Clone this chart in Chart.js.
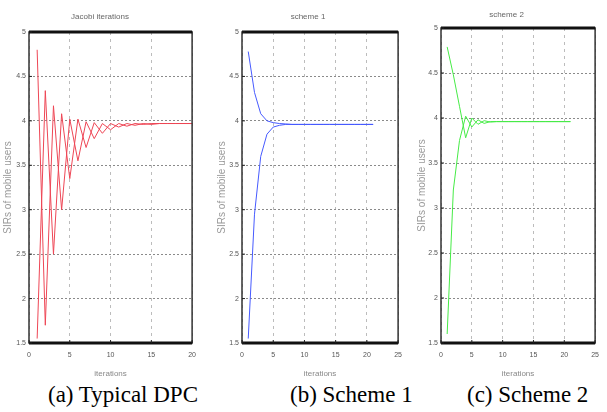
<!DOCTYPE html>
<html>
<head>
<meta charset="utf-8">
<script src="https://cdn.jsdelivr.net/npm/chart.js@4.4.0/dist/chart.umd.min.js"></script>
<style>
  body { margin: 0; width: 607px; height: 412px; background: #fff; position: relative; overflow: hidden; }
  .panel { position: absolute; top: 0; height: 380px; }
  .cap { position: absolute; top: 383px; font-family: "Liberation Serif", "Times New Roman", serif; font-size: 23px; line-height: 24px; color: #000; white-space: nowrap; }
</style>
</head>
<body>
<div class="panel" style="left:0;width:204px"><canvas id="chartA"></canvas></div>
<div class="panel" style="left:210px;width:200px"><canvas id="chartB"></canvas></div>
<div class="panel" style="left:410px;width:197px"><canvas id="chartC"></canvas></div>
<div class="cap" style="left:48px">(a) Typical DPC</div>
<div class="cap" style="left:290px">(b) Scheme 1</div>
<div class="cap" style="left:467px">(c) Scheme 2</div>

<script>
// ---- data ----
const iterA = [1, 2, 3, 4, 5, 6, 7, 8, 9, 10, 11, 12, 13, 14, 15, 16, 17, 18, 19, 20];
const iterBC = [1, 2, 3, 4, 5, 6, 7, 8, 9, 10, 11, 12, 13, 14, 15, 16, 17, 18, 19, 20, 21];

// (a) typical DPC, two users oscillating
const dpcUser1 = [4.8, 1.7, 4.17, 3.0, 4.02, 3.55, 3.99, 3.8, 3.97, 3.9, 3.97, 3.94, 3.97, 3.96, 3.97, 3.97, 3.97, 3.97, 3.97, 3.97];
const dpcUser2 = [1.55, 4.34, 2.5, 4.08, 3.35, 4.02, 3.7, 3.98, 3.86, 3.97, 3.93, 3.97, 3.95, 3.97, 3.96, 3.97, 3.97, 3.97, 3.97, 3.97];

// (b) scheme 1
const s1User1 = [4.78, 4.32, 4.08, 4.0, 3.98, 3.97, 3.965, 3.96, 3.96, 3.96, 3.96, 3.96, 3.96, 3.96, 3.96, 3.96, 3.96, 3.96, 3.96, 3.96, 3.96];
const s1User2 = [1.55, 2.95, 3.6, 3.85, 3.93, 3.95, 3.96, 3.96, 3.96, 3.96, 3.96, 3.96, 3.96, 3.96, 3.96, 3.96, 3.96, 3.96, 3.96, 3.96, 3.96];

// (c) scheme 2
const s2User1 = [4.79, 4.48, 4.13, 3.78, 4.0, 3.93, 3.97, 3.955, 3.96, 3.96, 3.96, 3.96, 3.96, 3.96, 3.96, 3.96, 3.96, 3.96, 3.96, 3.96, 3.96];
const s2User2 = [1.6, 3.2, 3.75, 4.02, 3.9, 3.98, 3.94, 3.96, 3.96, 3.96, 3.96, 3.96, 3.96, 3.96, 3.96, 3.96, 3.96, 3.96, 3.96, 3.96, 3.96];

const yTicksMin = 1.5, yTicksMax = 5, yStep = 0.5;
const xStep = 5;

// ---- frame round the axes, matlab style ----
const framePlugin = {
  id: "frame",
  afterDatasetsDraw(chart) {
    const a = chart.chartArea;
    const ctx = chart.ctx;
    ctx.save();
    ctx.strokeStyle = "#333";
    ctx.lineWidth = 1.5;
    ctx.strokeRect(a.left, a.top, a.right - a.left, a.bottom - a.top);
    ctx.strokeStyle = "#111";
    ctx.lineWidth = 3;
    ctx.beginPath();
    ctx.moveTo(a.left, a.top); ctx.lineTo(a.right, a.top);
    ctx.moveTo(a.left, a.bottom); ctx.lineTo(a.right, a.bottom);
    ctx.stroke();
    // small inward tick marks
    ctx.lineWidth = 1;
    ctx.strokeStyle = "#222";
    ctx.beginPath();
    chart.scales.y.ticks.forEach(t => {
      const py = chart.scales.y.getPixelForValue(t.value);
      ctx.moveTo(a.left, py); ctx.lineTo(a.left + 3, py);
    });
    chart.scales.x.ticks.forEach(t => {
      const px = chart.scales.x.getPixelForValue(t.value);
      ctx.moveTo(px, a.bottom); ctx.lineTo(px, a.bottom - 3);
    });
    ctx.stroke();
    ctx.restore();
  }
};

function makePanel(id, title, xs, series, colour, xMax, yWidth, titleTop, titleBottom, yTitleOffset) {
  const datasets = series.map(ys => ({
    data: xs.map((x, i) => ({ x: x, y: ys[i] })),
    borderColor: colour,
    borderWidth: 1,
    pointRadius: 0,
    tension: 0,
    fill: false
  }));

  new Chart(document.getElementById(id), {
    type: "line",
    data: { datasets },
    options: {
      responsive: true,
      maintainAspectRatio: false,
      animation: false,
      layout: { padding: { left: 0, right: 4, top: 0, bottom: 0 } },
      plugins: {
        legend: { display: false },
        tooltip: { enabled: false },
        title: {
          display: true,
          text: title,
          color: "#666",
          font: { family: "Liberation Sans", size: 8, weight: "normal", lineHeight: 1.2 },
          padding: { top: titleTop, bottom: titleBottom }
        }
      },
      scales: {
        x: {
          type: "linear",
          min: 0,
          max: xMax,
          ticks: { stepSize: xStep, color: "#555", padding: 8, font: { family: "Liberation Sans", size: 7 }, maxRotation: 0, callback: v => String(v) },
          grid: { color: "#bcbcbc", drawTicks: false },
          border: { display: false, dash: [3, 4] },
          title: { display: true, text: "iterations", color: "#888", font: { family: "Liberation Sans", size: 8, lineHeight: 1 }, padding: { top: 0, bottom: 2 } },
          afterFit: s => { s.height = 37; }
        },
        y: {
          min: yTicksMin,
          max: yTicksMax,
          ticks: { stepSize: yStep, color: "#555", padding: 3, font: { family: "Liberation Sans", size: 7 }, callback: v => String(v) },
          grid: { color: "#8a8a8a", drawTicks: false },
          border: { display: false, dash: [2, 2] },
          title: { display: true, text: "SIRs of mobile users", color: "#999", font: { family: "Liberation Sans", size: 10, lineHeight: 1 }, padding: { top: yTitleOffset - 1.5, bottom: 0 } },
          afterFit: s => { s.width = yWidth; }
        }
      }
    },
    plugins: [framePlugin]
  });
}

makePanel("chartA", "Jacobi iterations", iterA, [dpcUser1, dpcUser2], "rgb(238,70,85)", 20, 29, 12, 10.4, 4.5);
makePanel("chartB", "scheme 1", iterBC, [s1User1, s1User2], "rgb(70,90,255)", 25, 32, 12, 10.4, 8.5);
makePanel("chartC", "scheme 2", iterBC, [s2User1, s2User2], "rgb(70,235,70)", 25, 31, 10, 8.4, 8.5);
</script>
</body>
</html>
